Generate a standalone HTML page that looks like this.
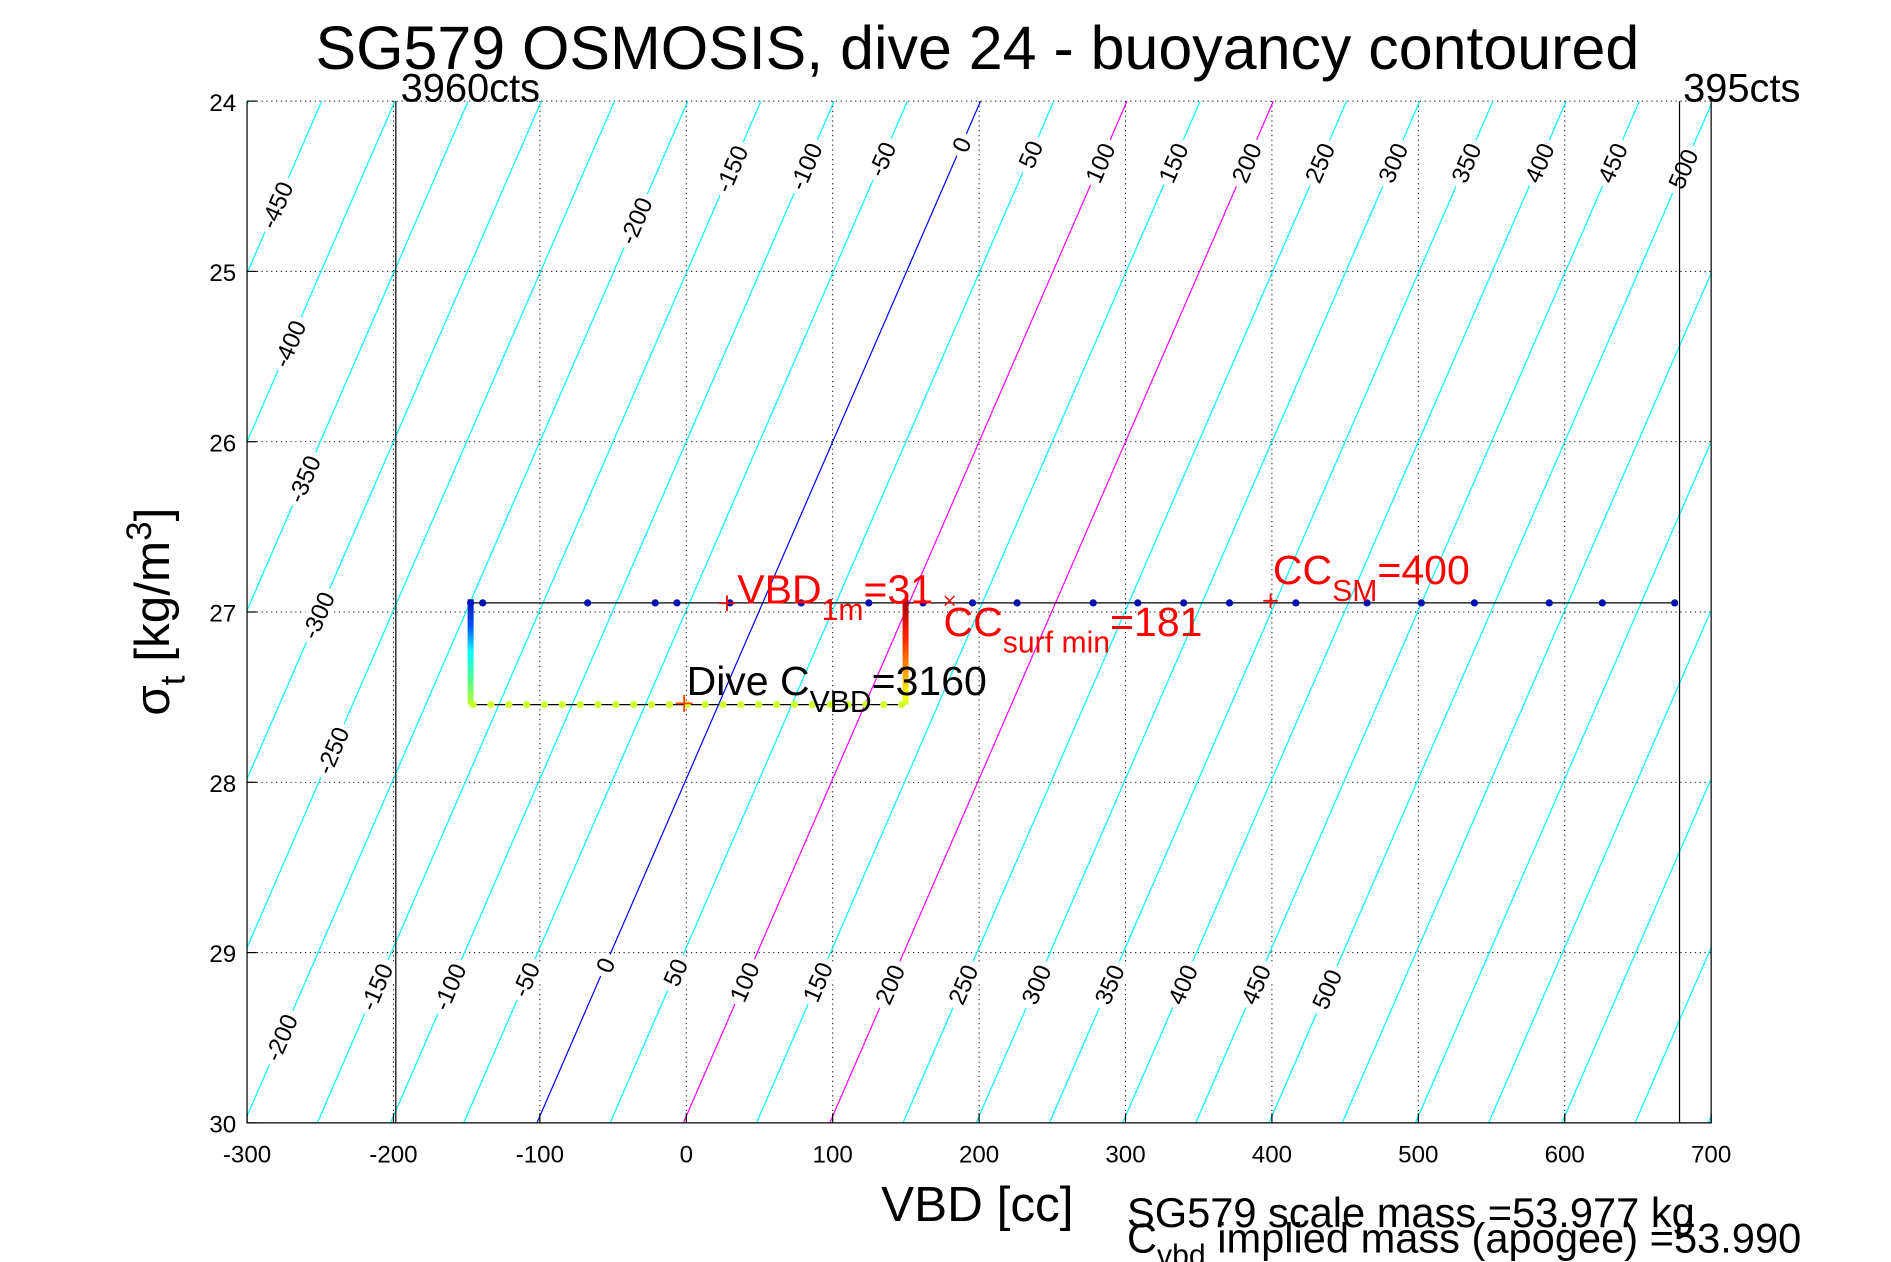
<!DOCTYPE html>
<html><head><meta charset="utf-8"><style>
html,body{margin:0;padding:0;background:#fff;}
svg{display:block;font-family:"Liberation Sans",sans-serif;}
</style></head><body>
<svg id="s" width="1891" height="1262" viewBox="0 0 1567.2 1046" xmlns="http://www.w3.org/2000/svg">
<defs>
<clipPath id="cp"><rect x="204.7" y="83.8" width="1213.5" height="846.9"/></clipPath>
<linearGradient id="gL" x1="0" y1="0" x2="0" y2="1"><stop offset="0" stop-color="#0010b0"/><stop offset="0.25" stop-color="#0050ff"/><stop offset="0.5" stop-color="#00ffff"/><stop offset="0.8" stop-color="#60ff80"/><stop offset="1" stop-color="#c0ff30"/></linearGradient>
<linearGradient id="gR" x1="0" y1="0" x2="0" y2="1"><stop offset="0" stop-color="#a00000"/><stop offset="0.35" stop-color="#ff2000"/><stop offset="0.7" stop-color="#ffa000"/><stop offset="0.9" stop-color="#ffff00"/><stop offset="1" stop-color="#d0ff30"/></linearGradient>
</defs>
<g id="grid"></g>
<g id="cont" clip-path="url(#cp)"></g>
<g id="labs" font-size="20" text-anchor="middle"></g>
<g id="data"></g>
<g id="axes"></g>
<text x="810" y="57" font-size="50.5" text-anchor="middle">SG579 OSMOSIS, dive 24 - buoyancy contoured</text>
<text x="332" y="84" font-size="33">3960cts</text>
<text x="1395" y="84" font-size="33">395cts</text>
<text x="810" y="1012" font-size="41" text-anchor="middle">VBD [cc]</text>
<text transform="translate(140,507) rotate(-90)" font-size="41" text-anchor="middle">σ<tspan font-size="29" dy="13">t</tspan><tspan dy="-13"> [kg/m</tspan><tspan font-size="29" dy="-15">3</tspan><tspan dy="15">]</tspan></text>
<text x="611" y="500" font-size="34" fill="#f00">VBD<tspan font-size="25" dy="14">1m</tspan><tspan dy="-14">=31</tspan></text>
<text x="782" y="527" font-size="34" fill="#f00">CC<tspan font-size="25" dy="14">surf min</tspan><tspan dy="-14">=181</tspan></text>
<text x="1055" y="484" font-size="34" fill="#f00">CC<tspan font-size="25" dy="14">SM</tspan><tspan dy="-14">=400</tspan></text>
<text x="569" y="576" font-size="34">Dive C<tspan font-size="25" dy="14">VBD</tspan><tspan dy="-14">=3160</tspan></text>
<text x="934" y="1017" font-size="34.5">SG579 scale mass =53.977 kg</text>
<text x="934" y="1038" font-size="34.5">C<tspan font-size="25" dy="11">vbd</tspan><tspan dy="-11"> implied mass (apogee) =53.990</tspan></text>
</svg>
<script>
(function(){
const NS="http://www.w3.org/2000/svg";
function px(v){return 204.7+(v+300)*1.2135;}
function py(s){return 83.8+(s-24)*141.15;}
function el(p,t,a,txt){const e=document.createElementNS(NS,t);for(const k in a)e.setAttribute(k,a[k]);if(txt!==undefined)e.textContent=txt;document.getElementById(p).appendChild(e);return e;}
const L=204.7,R=1418.2,T=83.8,B=930.7;
for(let v=-200;v<=600;v+=100){el('grid','line',{x1:px(v),x2:px(v),y1:T,y2:B,stroke:'#000','stroke-width':0.8,'stroke-dasharray':'1,3'});}
for(let s=25;s<=29;s++){el('grid','line',{x1:L,x2:R,y1:py(s),y2:py(s),stroke:'#000','stroke-width':0.8,'stroke-dasharray':'1,3'});}
el('grid','line',{x1:L,x2:R,y1:T,y2:T,stroke:'#000','stroke-width':0.8,'stroke-dasharray':'1,3'});
function vb(b,s){return b-102+(30-s)*50.5;}
for(let b=-900;b<=900;b+=50){
  const c=b==0?'#0000ff':(b==100||b==200)?'#ff00ff':'#00ffff';
  el('cont','line',{x1:px(vb(b,24)),y1:py(24),x2:px(vb(b,30)),y2:py(30),stroke:c,'stroke-width':1});
}
const topL=[[-450,170],[-400,285],[-350,397],[-300,510],[-250,622],[-200,183],[-150,140],[-100,138],[-50,132],[0,120],[50,128],[100,135],[150,135],[200,135],[250,135],[300,135],[350,135],[400,135],[450,135],[500,140]];
const botL=[[-200,860],[-150,818],[-100,818],[-50,812],[0,800],[50,806],[100,814],[150,814],[200,816],[250,816],[300,816],[350,816],[400,816],[450,816],[500,820]];
for(const [b,y] of topL.concat(botL)){
  const s=24+(y-83.8)/141.15;const x=px(vb(b,s));
  el('labs','text',{transform:`translate(${x},${y}) rotate(-66.5) translate(0,7)`,stroke:'#fff','stroke-width':10,'paint-order':'stroke',fill:'#000'},String(b));
}
el('axes','line',{x1:328,x2:328,y1:T,y2:B,stroke:'#000','stroke-width':1});
el('axes','line',{x1:1392,x2:1392,y1:T,y2:B,stroke:'#000','stroke-width':1});
el('axes','path',{d:`M${L},${T}V${B}H${R}V${T}`,fill:'none',stroke:'#000','stroke-width':1});
for(let v=-300;v<=700;v+=100){const x=px(v);el('axes','line',{x1:x,x2:x,y1:B,y2:B-8,stroke:'#000'});el('axes','text',{x:x,y:B+33,'font-size':20,'text-anchor':'middle'},String(v));}
for(let s=24;s<=30;s++){const y=py(s);el('axes','line',{x1:L,x2:L+8,y1:y,y2:y,stroke:'#000'});el('axes','text',{x:L-9,y:y+8,'font-size':20,'text-anchor':'end'},String(s));}
const yT=499.7,yB=584;
el('data','line',{x1:390,x2:1390,y1:yT,y2:yT,stroke:'#000','stroke-width':1});
el('data','line',{x1:392,x2:748,y1:yB,y2:yB,stroke:'#000','stroke-width':1});
for(const x of [390,400,487,543,561,605,664,720,765,806,843,906,943,981,1019,1074,1133,1178,1222,1284,1328,1388])el('data','circle',{cx:x,cy:yT,r:3,fill:'#0010b0'});
for(let x=392;x<=748;x+=14.8)el('data','circle',{cx:x,cy:yB,r:3,fill:'#d0ff30'});
el('data','rect',{x:387.5,y:yT-3,width:5,height:yB-yT+3,fill:'url(#gL)'});
el('data','rect',{x:748,y:yT-3,width:5,height:yB-yT+3,fill:'url(#gR)'});
el('data','path',{d:'M560,583h14M567,576v14',stroke:'#ff4000','stroke-width':1.5});
el('data','path',{d:'M596,500h13M602.5,493.5v13',stroke:'#f00','stroke-width':1.5});
el('data','path',{d:'M1047,498h12M1053,492v12',stroke:'#f00','stroke-width':1.5});
el('data','path',{d:'M783,494l8,8M783,502l8,-8',stroke:'#f00','stroke-width':1.2});
})();
</script>
</body></html>
